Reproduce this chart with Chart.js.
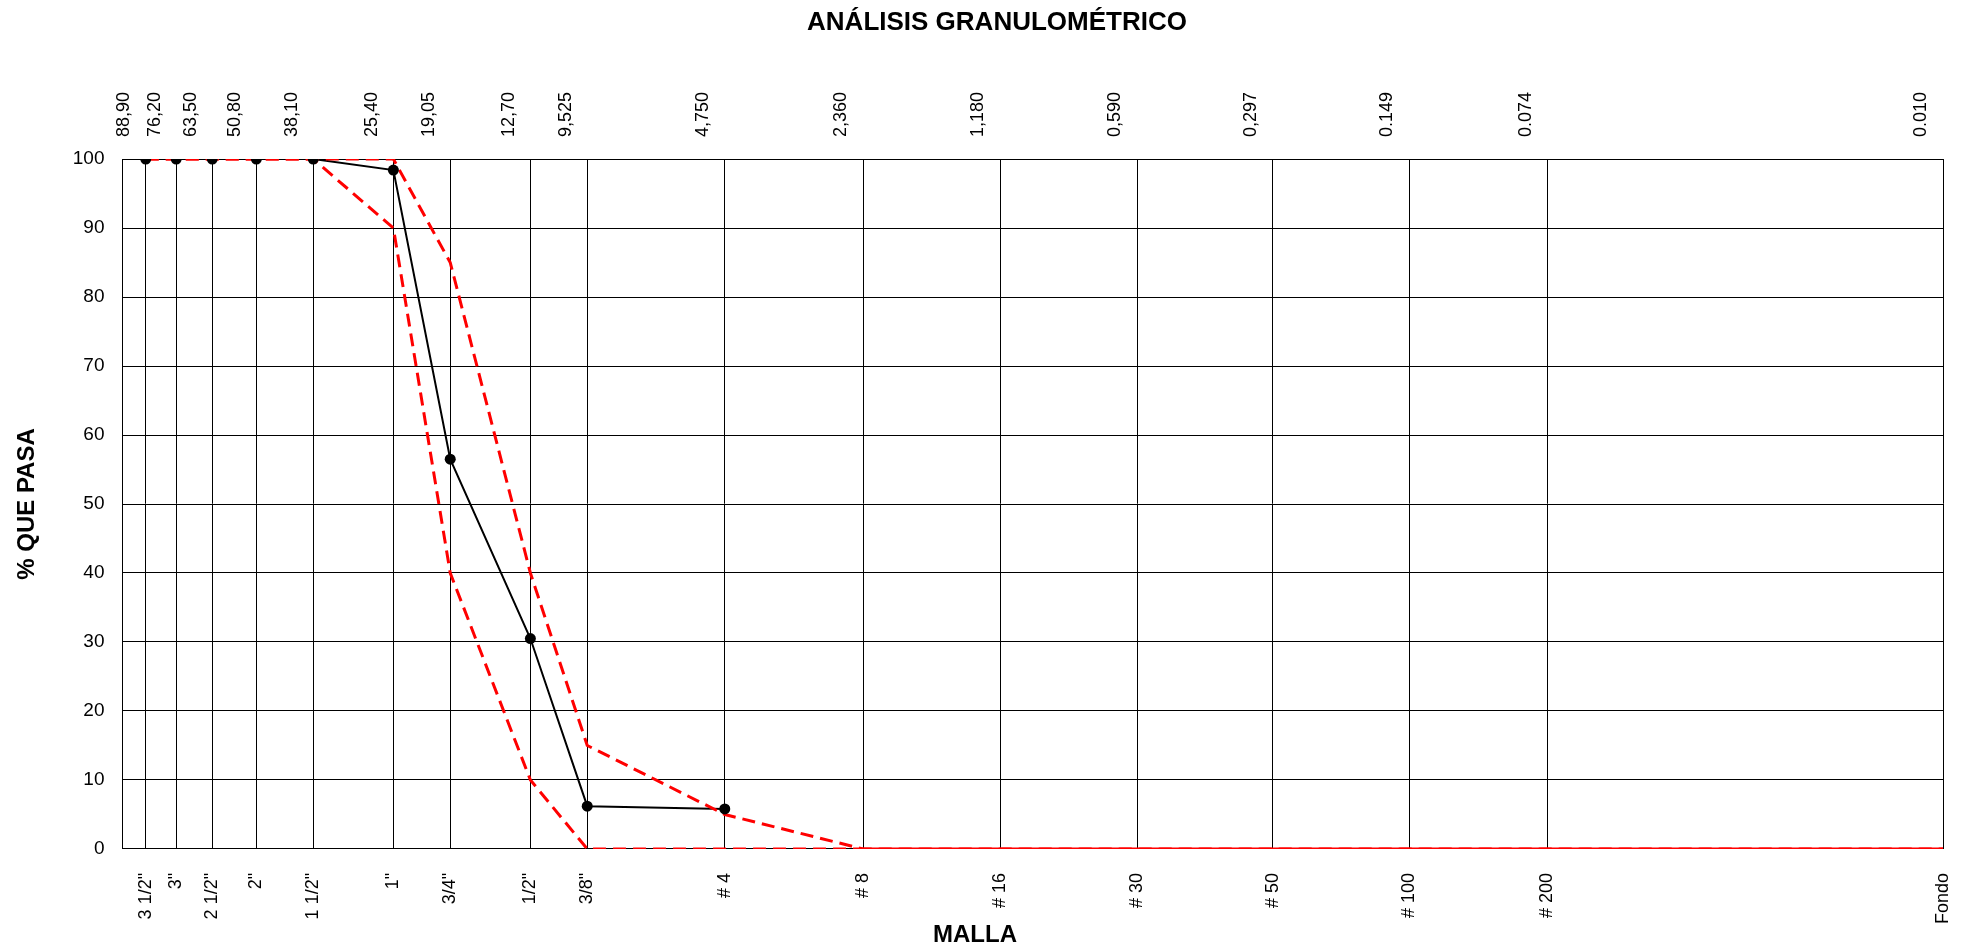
<!DOCTYPE html>
<html>
<head>
<meta charset="utf-8">
<script src="https://cdn.jsdelivr.net/npm/chart.js@4/dist/chart.umd.min.js"></script>
<style>
  html, body { margin: 0; padding: 0; background: #fff; }
  #wrap { width: 1977px; height: 951px; }
</style>
</head>
<body>
<div id="wrap"><canvas id="chart"></canvas></div>
<script>
// sieve openings (mm) and names
const sizes = [88.9, 76.2, 63.5, 50.8, 38.1, 25.4, 19.05, 12.7, 9.525, 4.75, 2.36, 1.18, 0.59, 0.297, 0.149, 0.074, 0.01];
const meshNames = ['3 1/2"', '3"', '2 1/2"', '2"', '1 1/2"', '1"', '3/4"', '1/2"', '3/8"', '# 4', '# 8', '# 16', '# 30', '# 50', '# 100', '# 200', 'Fondo'];
const sizeLabels = ['88,90', '76,20', '63,50', '50,80', '38,10', '25,40', '19,05', '12,70', '9,525', '4,750', '2,360', '1,180', '0,590', '0,297', '0.149', '0.074', '0.010'];

// % passing of the sample
const sampleSizes = [88.9, 76.2, 63.5, 50.8, 38.1, 25.4, 19.05, 12.7, 9.525, 4.75];
const samplePass = [100, 100, 100, 100, 100, 98.4, 56.5, 30.5, 6.2, 5.8];

// specification limits
const limitSizes = [88.9, 76.2, 63.5, 50.8, 38.1, 25.4, 19.05, 12.7, 9.525, 4.75, 2.36, 1.18, 0.59, 0.297, 0.149, 0.074, 0.01];
const upperLimit = [100, 100, 100, 100, 100, 100, 85, 40, 15, 5, 0, 0, 0, 0, 0, 0, 0];
const lowerLimit = [100, 100, 100, 100, 100, 90, 40, 10, 0, 0, 0, 0, 0, 0, 0, 0, 0];

const yTicks = [0, 10, 20, 30, 40, 50, 60, 70, 80, 90, 100];

const toPoints = (xs, ys) => xs.map((x, i) => ({ x: x, y: ys[i] }));
const FONT = 'Liberation Sans, Arial, sans-serif';

const sieveTicks = axis => { axis.ticks = sizes.map(v => ({ value: v })); };
// let the last rotated label hang into the page margin
const noSidePadding = axis => { axis.paddingLeft = 0; axis.paddingRight = 0; };

// title and x axis title sit off the plot centre in the original, so draw them by hand
const titles = {
  id: 'titles',
  afterDraw(chart) {
    const ctx = chart.ctx;
    ctx.save();
    ctx.fillStyle = '#000';
    ctx.textAlign = 'center';
    ctx.textBaseline = 'middle';
    ctx.font = 'bold 26px ' + FONT;
    ctx.fillText('ANÁLISIS GRANULOMÉTRICO', 997, 23);
    ctx.font = 'bold 24px ' + FONT;
    ctx.fillText('MALLA', 975, 935);
    ctx.restore();
  }
};

new Chart(document.getElementById('chart'), {
  type: 'line',
  data: {
    datasets: [
      {
        label: 'Muestra (puntos)',
        data: toPoints(sampleSizes, samplePass),
        showLine: false,
        backgroundColor: '#000',
        pointRadius: 5.5,
        pointBorderWidth: 0,
        order: 0,
        xAxisID: 'x'
      },
      {
        label: 'Muestra',
        data: toPoints(sampleSizes, samplePass),
        borderColor: '#000',
        borderWidth: 2,
        pointRadius: 0,
        tension: 0,
        order: 3,
        xAxisID: 'x'
      },
      {
        label: 'Límite superior',
        data: toPoints(limitSizes, upperLimit),
        borderColor: '#ff0000',
        borderWidth: 3,
        borderDash: [13, 7],
        pointRadius: 0,
        tension: 0,
        order: 1,
        xAxisID: 'x'
      },
      {
        label: 'Límite inferior',
        data: toPoints(limitSizes, lowerLimit),
        borderColor: '#ff0000',
        borderWidth: 3,
        borderDash: [13, 7],
        pointRadius: 0,
        tension: 0,
        order: 2,
        xAxisID: 'x',
        segment: {
          // both limits overlap past # 8, which reads as a solid line
          borderDash: ctx => (ctx.p0.parsed.x <= 2.36 ? [] : undefined)
        }
      }
    ]
  },
  options: {
    responsive: true,
    maintainAspectRatio: false,
    animation: false,
    layout: { padding: { left: 13, right: 34, top: 70, bottom: 3 } },
    plugins: {
      legend: { display: false },
      tooltip: { enabled: false },
      title: { display: false }
    },
    scales: {
      x: {
        type: 'logarithmic',
        position: 'bottom',
        reverse: true,
        min: 0.01,
        max: 100,
        afterBuildTicks: sieveTicks,
        afterFit: noSidePadding,
        grid: { color: '#000', lineWidth: 1, drawTicks: false },
        border: { color: '#000', width: 1 },
        ticks: {
          autoSkip: false,
          minRotation: 90,
          maxRotation: 90,
          padding: 24,
          color: '#000',
          font: { family: FONT, size: 18 },
          callback: (v, i) => meshNames[i]
        }
      },
      x2: {
        type: 'logarithmic',
        position: 'top',
        reverse: true,
        min: 0.01,
        max: 100,
        afterBuildTicks: sieveTicks,
        afterFit: noSidePadding,
        grid: { display: false, drawTicks: false },
        border: { display: false },
        ticks: {
          autoSkip: false,
          minRotation: 90,
          maxRotation: 90,
          padding: 22,
          color: '#000',
          font: { family: FONT, size: 18 },
          callback: (v, i) => sizeLabels[i]
        }
      },
      y: {
        min: 0,
        max: 100,
        afterBuildTicks: axis => { axis.ticks = yTicks.map(v => ({ value: v })); },
        grid: { color: '#000', lineWidth: 1, drawTicks: false },
        border: { color: '#000', width: 1 },
        ticks: {
          padding: 18,
          color: '#000',
          font: { family: FONT, size: 19 }
        },
        title: {
          display: true,
          text: '% QUE PASA',
          color: '#000',
          font: { family: FONT, size: 24, weight: 'bold' },
          padding: { top: 0, bottom: 13 }
        }
      }
    }
  },
  plugins: [titles]
});
</script>
</body>
</html>
